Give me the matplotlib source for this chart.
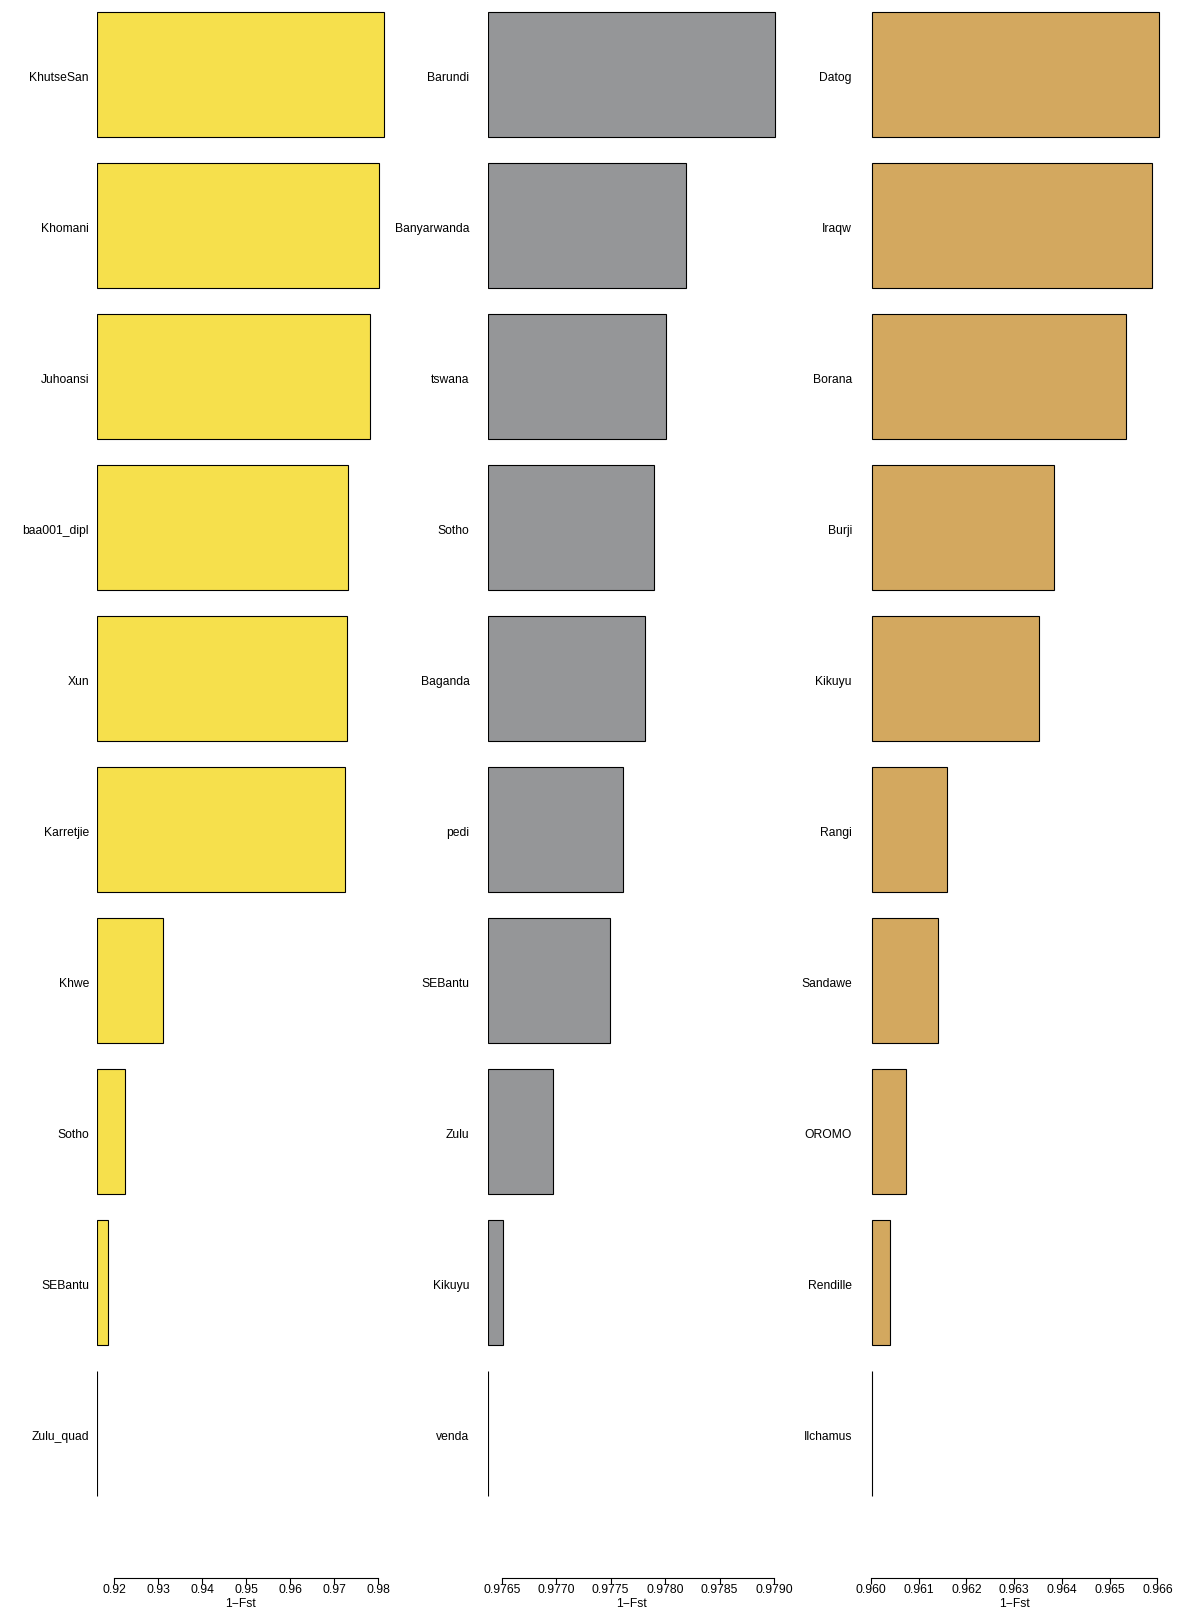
import matplotlib
matplotlib.use("Agg")
import matplotlib.pyplot as plt
import numpy as np

plt.rcParams['font.family'] = ['Liberation Sans', 'DejaVu Sans']

# ---- data ----
labels_a = ["KhutseSan", "Khomani", "Juhoansi", "baa001_dipl", "Xun", "Karretjie",
            "Khwe", "Sotho", "SEBantu", "Zulu_quad"]
values_a = [0.98123, 0.98008, 0.97820, 0.97310, 0.97283, 0.97237,
            0.93110, 0.92248, 0.91850, 0.91618]
ticks_a = [0.92, 0.93, 0.94, 0.95, 0.96, 0.97, 0.98]
ticklabels_a = ["0.92", "0.93", "0.94", "0.95", "0.96", "0.97", "0.98"]

labels_b = ["Barundi", "Banyarwanda", "tswana", "Sotho", "Baganda", "pedi",
            "SEBantu", "Zulu", "Kikuyu", "venda"]
values_b = [0.979009, 0.978192, 0.978006, 0.977896, 0.977816, 0.977616,
            0.977497, 0.976971, 0.976510, 0.976378]
ticks_b = [0.9765, 0.9770, 0.9775, 0.9780, 0.9785, 0.9790]
ticklabels_b = ["0.9765", "0.9770", "0.9775", "0.9780", "0.9785", "0.9790"]

labels_c = ["Datog", "Iraqw", "Borana", "Burji", "Kikuyu", "Rangi", "Sandawe",
            "OROMO", "Rendille", "Ilchamus"]
values_c = [0.966030, 0.965890, 0.965345, 0.963845, 0.963517, 0.961587,
            0.961405, 0.960737, 0.960397, 0.960020]
ticks_c = [0.960, 0.961, 0.962, 0.963, 0.964, 0.965, 0.966]
ticklabels_c = ["0.960", "0.961", "0.962", "0.963", "0.964", "0.965", "0.966"]

colors = ["#F6E04C", "#959698", "#D3A85F"]
xlabel = "1\u2212Fst"

# ---- layout (pixel calibration of each panel) ----
W, H = 1181, 1609
fig = plt.figure(figsize=(W / 100, H / 100), dpi=100)

# (first tick px, px per unit, axes right px, label pad px)
calib = [
    (114.3, 264.0 / 0.06, 392.0, 8.5),
    (501.7, 272.3 / 0.0025, 792.0, 19.0),
    (870.0, 287.3 / 0.006, 1172.0, 19.0),
]
panels = [
    (labels_a, values_a, ticks_a, ticklabels_a),
    (labels_b, values_b, ticks_b, ticklabels_b),
    (labels_c, values_c, ticks_c, ticklabels_c),
]

axis_y_px = 1578.0  # bottom of axes (axis line)
ylim = (-0.955, 9.496)

for k, ((labs, vals, ticks, tlabs), (t0px, scale, right_px, pad)) in enumerate(zip(panels, calib)):
    vals = np.asarray(vals)
    base = vals.min()
    left_px = t0px + (base - ticks[0]) * scale
    x1 = base + (right_px - left_px) / scale
    ax = fig.add_axes([left_px / W, (H - axis_y_px) / H,
                       (right_px - left_px) / W, axis_y_px / H])
    n = len(vals)
    ypos = np.arange(n)[::-1]
    ax.barh(ypos, vals - base, left=base, height=0.829, color=colors[k],
            edgecolor="black", linewidth=0.8)
    ax.set_xlim(base, x1)
    ax.set_ylim(*ylim)
    for s in ["top", "right", "left"]:
        ax.spines[s].set_visible(False)
    ax.spines["bottom"].set_bounds(ticks[0], ticks[-1])
    ax.spines["bottom"].set_linewidth(0.8)
    ax.set_xticks(ticks)
    ax.set_xticklabels(tlabs)
    ax.tick_params(axis="x", length=4, width=0.8, pad=0.5, labelsize=8.7)
    ax.set_yticks(ypos - 0.008)
    ax.set_yticklabels(labs)
    ax.tick_params(axis="y", length=0, pad=pad * 0.72, labelsize=8.7)
    ax.set_xlabel(xlabel, fontsize=8.7, labelpad=0)
    mid = ((vals.max() + vals.min()) / 2 - base) / (x1 - base)
    ax.xaxis.set_label_coords(mid, -0.0125, transform=ax.transAxes)
    ax.xaxis.label.set_verticalalignment("top")
    ax.patch.set_visible(False)

fig.savefig("out.png", dpi=100)
